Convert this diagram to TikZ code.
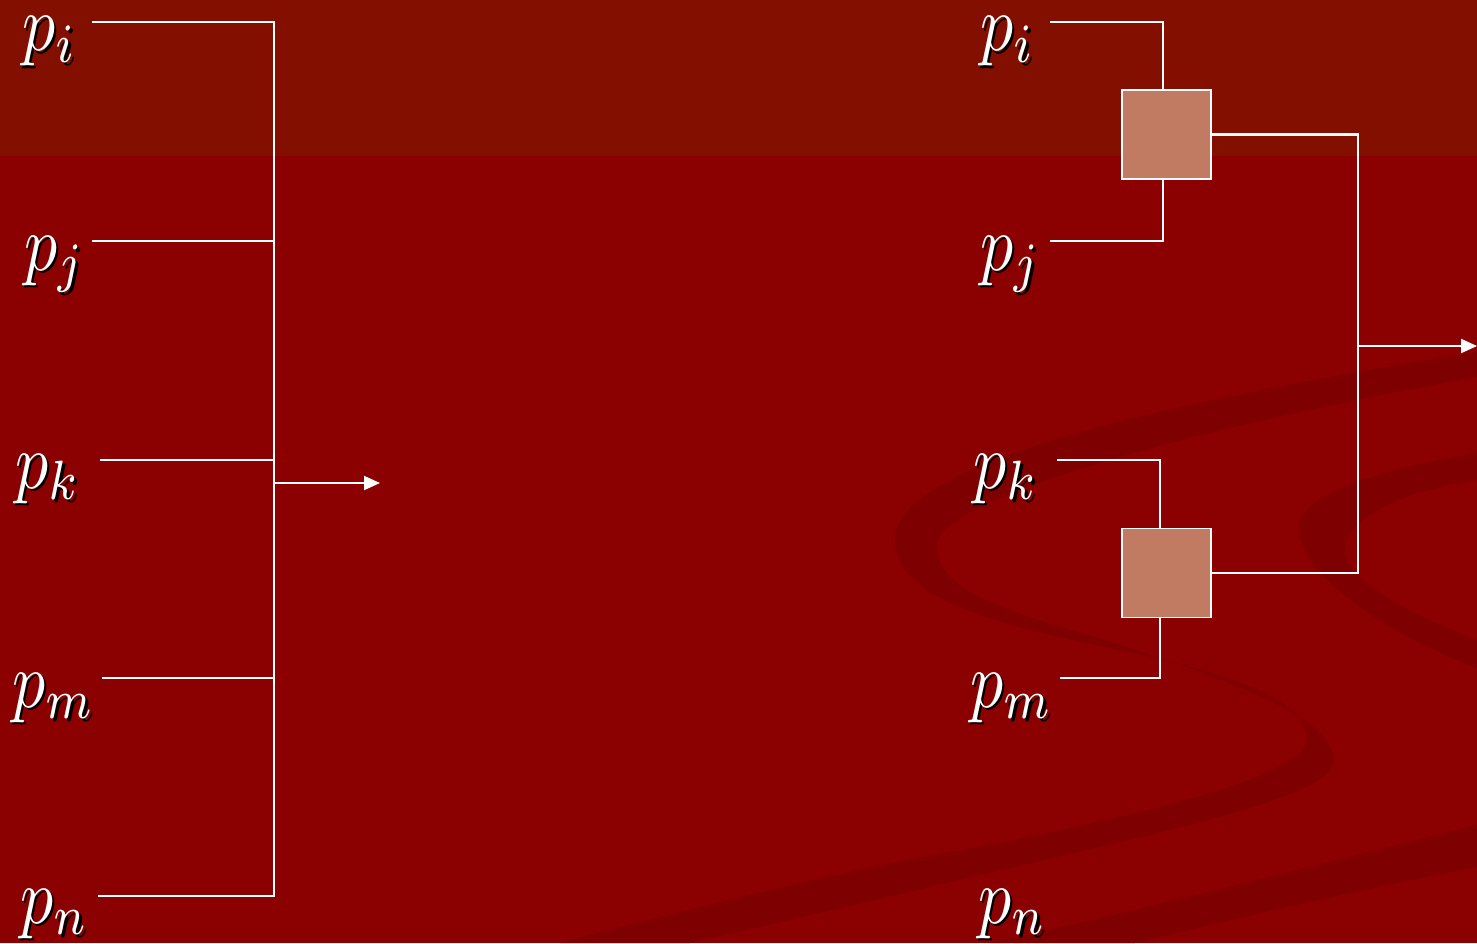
\documentclass[tikz,border=0pt]{standalone}
\usepackage{graphicx}
\usetikzlibrary{arrows.meta}
\definecolor{bgred}{RGB}{139,0,0}
\definecolor{topred}{RGB}{131,15,0}
\definecolor{swirlred}{RGB}{127,0,0}
\definecolor{gatefill}{RGB}{192,123,98}
\newcommand\shadowtext[1]{\makebox[0pt][l]{\hspace{1.5pt}\raisebox{-1.5pt}{\color{black}#1}}#1}
\newcommand\plabel[1]{\shadowtext{\scalebox{3.75}[4.5]{$#1$}}}
\begin{document}
\begin{tikzpicture}[x=0.02cm,y=-0.02cm,
  wire/.style={draw=white,line width=1.15pt},
  arr/.style={wire,-{Triangle[length=0.32cm,width=0.28cm]}},
  gate/.style={draw=white,line width=1.1pt,fill=gatefill,minimum width=1.78cm,minimum height=1.78cm,inner sep=0pt},
  lbl/.style={text=white,inner sep=0pt,anchor=base west}]
\useasboundingbox (0,0) rectangle (1477,943);
% background
\fill[bgred] (0,0) rectangle (1477,943);
\fill[topred] (0,0) rectangle (1477,156);
\begin{scope}
\clip (0,0) rectangle (1477,943);
% main S ribbon
\fill[swirlred] (1477,352)
  .. controls (1180,400) and (895,460) .. (895,540)
  .. controls (895,600) and (1000,625) .. (1110,648)
  .. controls (1230,672) and (1305,700) .. (1307,738)
  .. controls (1309,775) and (1150,815) .. (936,855)
  .. controls (800,880) and (650,920) .. (560,943)
  -- (690,943)
  .. controls (800,918) and (1000,870) .. (1150,835)
  .. controls (1290,800) and (1340,780) .. (1333,755)
  .. controls (1325,715) and (1230,680) .. (1105,640)
  .. controls (1000,610) and (937,590) .. (937,545)
  .. controls (937,500) and (1180,430) .. (1477,377)
  -- cycle;
% right crescent
\fill[swirlred] (1477,453)
  .. controls (1380,470) and (1295,495) .. (1299,530)
  .. controls (1302,580) and (1400,640) .. (1477,668)
  -- (1477,640)
  .. controls (1410,615) and (1345,580) .. (1345,550)
  .. controls (1345,515) and (1410,490) .. (1477,480)
  -- cycle;
% lower right band
\fill[swirlred] (1477,825)
  .. controls (1300,870) and (1100,920) .. (990,943)
  -- (1135,943)
  .. controls (1250,915) and (1380,885) .. (1477,867)
  -- cycle;
\end{scope}

% ---------- left diagram ----------
\node[lbl] (Li) at (22,51) {\plabel{p_i}};
\node[lbl] (Lj) at (24,270) {\plabel{p_j}};
\node[lbl] (Lk) at (15,488) {\plabel{p_k}};
\node[lbl] (Lm) at (12,707) {\plabel{p_m}};
\node[lbl] (Ln) at (20,923) {\plabel{p_n}};
\coordinate (li) at (92,22);
\coordinate (lj) at (92,241);
\coordinate (lk) at (100,460);
\coordinate (lm) at (102,678);
\coordinate (ln) at (98,896);
\coordinate (bt) at (274,22);
\coordinate (bb) at (274,896);
\coordinate (lo) at (274,483);
\coordinate (lout) at (380,483);
\draw[wire] (li) -- (bt) -- (bb) -- (ln);
\draw[wire] (lj) -- (lj -| bt);
\draw[wire] (lk) -- (lk -| bt);
\draw[wire] (lm) -- (lm -| bt);
\draw[arr] (lo) -- (lout);

% ---------- right diagram ----------
\node[lbl] (Ri) at (980,51) {\plabel{p_i}};
\node[lbl] (Rj) at (980,270) {\plabel{p_j}};
\node[lbl] (Rk) at (973,488) {\plabel{p_k}};
\node[lbl] (Rm) at (970,707) {\plabel{p_m}};
\node[lbl] (Rn) at (978,923) {\plabel{p_n}};
\node[gate] (g1) at (1166.5,134.5) {};
\node[gate] (g2) at (1166.5,573) {};
\coordinate (ri) at (1050,22);
\coordinate (rj) at (1050,241);
\coordinate (rk) at (1057,460);
\coordinate (rm) at (1060,678);
\coordinate (rj2) at (1358,346);
\coordinate (rout) at (1477,346);
\draw[wire] (ri) -| ([xshift=-0.07cm]g1.north);
\draw[wire] (rj) -| ([xshift=-0.07cm]g1.south);
\draw[wire] (rk) -| ([xshift=-0.13cm]g2.north);
\draw[wire] (rm) -| ([xshift=-0.13cm]g2.south);
\draw[wire] (g1.east) -| (rj2) |- (g2.east);
\draw[arr] (rj2) -- (rout);
\end{tikzpicture}
\end{document}
